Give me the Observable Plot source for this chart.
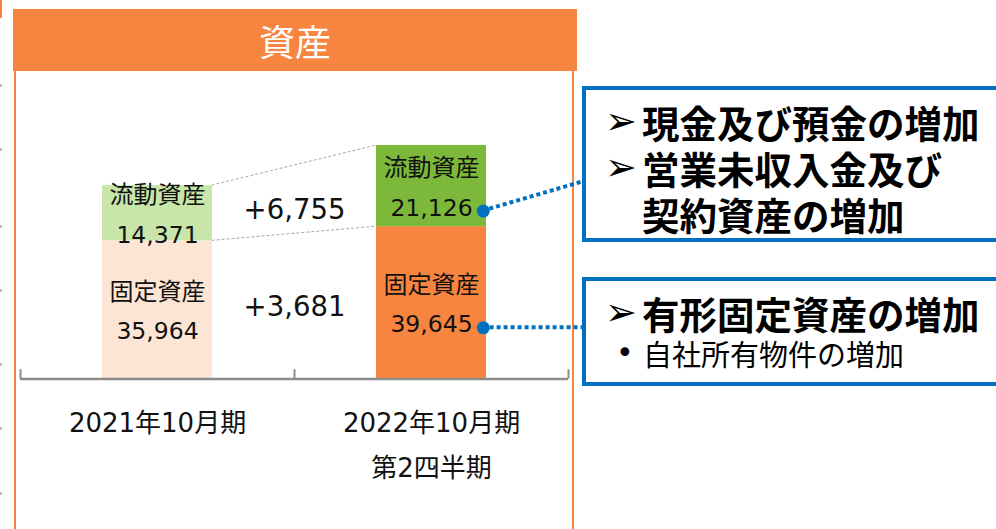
<!DOCTYPE html>
<html><head><meta charset="utf-8">
<script src="https://cdn.jsdelivr.net/npm/d3@7"></script>
<script src="https://cdn.jsdelivr.net/npm/@observablehq/plot@0.6"></script>
<style>
html,body{margin:0;padding:0;background:#fff;}
#wrap{position:relative;width:996px;height:529px;overflow:hidden;background:#fff;font-family:"DejaVu Sans","Noto Sans CJK JP",sans-serif;color:#000;}
.hdr{position:absolute;left:13px;top:9px;width:564px;height:62px;background:#f8853f;color:#fff;font-family:"Noto Sans CJK JP";font-size:36px;line-height:62px;text-align:center;z-index:1;}
.panel{position:absolute;left:14px;top:69px;width:560px;height:480px;border:2px solid #f8853f;box-sizing:border-box;}
.edge{position:absolute;left:0;width:2px;}
#chart{position:absolute;left:0;top:0;z-index:2;}
.box{position:absolute;left:582px;border:4px solid #0070c0;box-sizing:border-box;width:430px;background:#fff;z-index:3;padding-top:9px;}
.line{height:46px;line-height:46px;font-weight:700;font-size:37.5px;padding-left:19px;white-space:nowrap;font-family:"Noto Sans CJK JP";}
.arrow{display:inline-block;width:37px;font-family:"DejaVu Sans";font-size:38px;font-weight:400;vertical-align:top;line-height:44px;}
.sub{height:34px;line-height:34px;font-size:29px;padding-left:30px;font-family:"Noto Sans CJK JP";white-space:nowrap;}
.bullet{display:inline-block;width:27px;font-family:"DejaVu Sans";font-size:30px;vertical-align:top;line-height:34px;}
</style>
</head><body>
<div id="wrap">
  <div class="edge" style="top:0;height:18px;background:#f8853f;"></div>
  <div class="panel"></div>
  <div class="hdr" id="title"></div>
  <div id="chart"></div>
  <div class="box" id="box1" style="top:86px;height:156px;"></div>
  <div class="box" id="box2" style="top:277px;height:109px;"></div>
</div>
<script>
// ---- data ----
const titleText = "資産";
const periods = ["2021年10月期", "2022年10月期"];
const periodSubLabels = ["", "第2四半期"];
const kinds = ["固定資産", "流動資産"];
const fixedAssets = [35964, 39645];
const currentAssets = [14371, 21126];
const box1Lines = ["現金及び預金の増加", "営業未収入金及び", "契約資産の増加"];
const box1Arrows = [true, true, false];
const box2Lines = ["有形固定資産の増加"];
const box2Subs = ["自社所有物件の増加"];
const edgeMarks = [84, 148, 225, 289, 363, 427, 492];

// ---- styles ----
const kindColors = {
  "2021年10月期": {"固定資産": "#fde5d6", "流動資産": "#c8e6aa"},
  "2022年10月期": {"固定資産": "#f8853f", "流動資産": "#7cb93b"}
};
const fmt = d3.format(",");
const xRange = [20, 568], padIn = 0.6, padOut = 0.3;
const step = (xRange[1] - xRange[0]) / (periods.length - padIn + 2 * padOut);
const bw = step * (1 - padIn);
const tickLen = 2400; // in value units

document.getElementById("title").textContent = titleText;
const wrap = document.getElementById("wrap");
edgeMarks.forEach(y => {
  const d = document.createElement("div");
  d.className = "edge"; d.style.top = y + "px"; d.style.height = "3px"; d.style.background = "#bbb";
  wrap.appendChild(d);
});

const rows = periods.flatMap((p, i) => [
  {period: p, kind: kinds[0], value: fixedAssets[i],
   delta: i < periods.length - 1 ? "+" + fmt(fixedAssets[i + 1] - fixedAssets[i]) : ""},
  {period: p, kind: kinds[1], value: currentAssets[i],
   delta: i < periods.length - 1 ? "+" + fmt(currentAssets[i + 1] - currentAssets[i]) : ""}
]);
rows.forEach(r => r.fill = kindColors[r.period][r.kind]);
const ticks = periods.map((p, i) => ({p, l1: p, l2: periodSubLabels[i]}));
const last = periods[periods.length - 1];

const FF = '"DejaVu Sans", "Noto Sans CJK JP", sans-serif';
const plot = Plot.plot({
  width: 996, height: 529,
  marginLeft: 20, marginRight: 428, marginTop: 0, marginBottom: 0,
  style: {background: "transparent", fontFamily: FF, overflow: "visible"},
  x: {type: "band", domain: periods, range: xRange, paddingInner: padIn, paddingOuter: padOut, axis: null},
  y: {domain: [0, 60000], range: [378.5, 148], axis: null},
  color: {type: "identity"},
  marks: [
    Plot.barY(rows, {x: "period", y: "value", fill: "fill"}),
    Plot.ruleY([0], {stroke: "#8c8c8c", strokeWidth: 2.5}),
    Plot.ruleX(periods, {x: d => d, dx: -step / 2, y1: () => 0, y2: () => tickLen, stroke: "#8c8c8c", strokeWidth: 2}),
    Plot.ruleX([last], {x: d => d, dx: step / 2, y1: () => 0, y2: () => tickLen, stroke: "#8c8c8c", strokeWidth: 2}),
    Plot.text(rows, Plot.stackY({x: "period", y: "value", text: "kind", dy: -18, fontSize: 24, fill: "#111", fontFamily: FF})),
    Plot.text(rows, Plot.stackY({x: "period", y: "value", text: d => fmt(d.value), dy: 22, fontSize: 23.5, fill: "#111", fontFamily: FF})),
    Plot.text(rows, Plot.stackY({filter: d => d.delta !== "", x: "period", y: "value", text: "delta", dx: step / 2, dy: -3, fontSize: 27.5, fill: "#111", fontFamily: FF})),
    Plot.dot(rows, Plot.stackY({filter: d => d.period === last, x: "period", y: "value", dx: bw / 2 - 3, dy: 25, r: 6.5, fill: "#0070c0", stroke: "none"})),
    Plot.text(ticks, {x: "p", y: () => 0, text: "l1", dy: 44.5, fontSize: 26, fill: "#111", fontFamily: FF}),
    Plot.text(ticks, {x: "p", y: () => 0, text: "l2", dy: 89.5, fontSize: 26, fill: "#111", fontFamily: FF})
  ]
});
document.getElementById("chart").appendChild(plot);

// connectors drawn with the plot's own scales
const sx = plot.scale("x"), sy = plot.scale("y");
const svg = d3.select(plot);
const g = svg.insert("g", ":first-child");
const xs = periods.map(p => sx.apply(p));
const tot = periods.map((p, i) => fixedAssets[i] + currentAssets[i]);
[[tot[0], tot[1]], [fixedAssets[0], fixedAssets[1]]].forEach(([a, b]) => {
  g.append("line").attr("x1", xs[0] + bw).attr("y1", sy.apply(a))
    .attr("x2", xs[1]).attr("y2", sy.apply(b))
    .attr("stroke", "#aaa").attr("stroke-width", 1).attr("stroke-dasharray", "3,2");
});
const li = periods.length - 1;
const dotX = xs[li] + bw - 3;
const dotYs = [sy.apply(fixedAssets[li] / 2) + 25, sy.apply(fixedAssets[li] + currentAssets[li] / 2) + 25];
const boxAnchors = [dotYs[0], 181]; // fixed -> lower box (horizontal), current -> upper box
dotYs.forEach((y, k) => {
  g.append("line").attr("x1", dotX).attr("y1", y).attr("x2", 584).attr("y2", boxAnchors[k])
    .attr("stroke", "#0070c0").attr("stroke-width", 4).attr("stroke-dasharray", "4,3");
});

// callout boxes
function addLine(box, text, arrow) {
  const d = document.createElement("div"); d.className = "line";
  const a = document.createElement("span"); a.className = "arrow"; a.textContent = arrow ? "➢" : "";
  d.appendChild(a);
  d.appendChild(document.createTextNode(text)); box.appendChild(d);
}
const b1 = document.getElementById("box1");
box1Lines.forEach((t, i) => addLine(b1, t, box1Arrows[i]));
const b2 = document.getElementById("box2");
box2Lines.forEach(t => addLine(b2, t, true));
box2Subs.forEach(t => {
  const d = document.createElement("div"); d.className = "sub";
  const a = document.createElement("span"); a.className = "bullet"; a.textContent = "•"; d.appendChild(a);
  d.appendChild(document.createTextNode(t)); b2.appendChild(d);
});
</script>
</body></html>
